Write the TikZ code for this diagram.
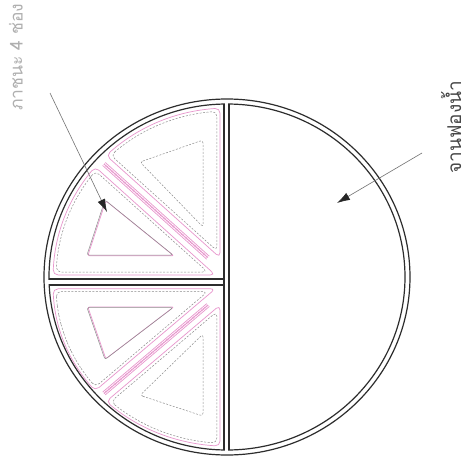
\documentclass[tikz,border=0pt]{standalone}
\usepackage{fontspec}
\newfontfamily\thaifont[Script=Thai]{Loma}
\usetikzlibrary{arrows.meta}

\definecolor{wallgray}{RGB}{45,45,45}
\definecolor{ridgepink}{RGB}{232,150,205}
\definecolor{ridgegray}{RGB}{140,140,140}
\definecolor{labeldark}{RGB}{70,70,70}
\definecolor{labellight}{RGB}{175,175,175}

\tikzset{
  wall/.style={draw=wallgray, line width=1.2pt},
  pinkline/.style={draw=ridgepink, line width=0.7pt},
  dashline/.style={draw=ridgegray, line width=0.5pt, dash pattern=on 2pt off 1.5pt},
  thinline/.style={draw=ridgegray, line width=0.5pt},
  pointer/.style={draw=black!55, line width=0.6pt,
    -{Latex[length=13pt,width=8pt,color=black!85]}},
  label/.style={font=\thaifont\fontsize{19}{19}\selectfont, rotate=90, inner sep=0pt},
}

% ridges and recesses of one quarter compartment
\newcommand{\quarterdecor}{%
  % diagonal ridge
  \draw[pinkline] (105.3,162.5) -- (209.3,256.2);
  \draw[pinkline] (104.0,164.0) -- (208.0,257.7);
  \draw[pinkline] (102.7,165.5) -- (206.7,259.2);
  \draw[pinkline, dash pattern=on 1pt off 1pt, line width=1.4pt] (104.0,164.0) -- (208.0,257.7);
  % upper recess
  \draw[pinkline, rounded corners=5pt]
    plot[domain=226:267.7, samples=12] ({227+174*cos(\x)},{277+169*sin(\x)})
    -- (220,257.7) -- cycle;
  \draw[dashline, rounded corners=5pt]
    plot[domain=227.2:266.6, samples=12] ({227+171*cos(\x)},{277+166*sin(\x)})
    -- (217,250.9) -- cycle;
  % lower recess
  \draw[pinkline, rounded corners=5pt]
    plot[domain=220.7:180.7, samples=12] ({227+174*cos(\x)},{277+169*sin(\x)})
    -- (215.4,275) -- cycle;
  \draw[dashline, rounded corners=5pt]
    plot[domain=219.7:181.7, samples=12] ({227+171*cos(\x)},{277+166*sin(\x)})
    -- (207.6,272) -- cycle;
  % triangular pockets
  \draw[dashline, rounded corners=3pt] (140,162) -- (203,140) -- (203,227) -- cycle;
  \draw[pinkline, rounded corners=2pt] (105.8,200.8) -- (87.8,255.8) -- (173.8,255.8) -- cycle;
  \draw[thinline, rounded corners=2pt] (105,200) -- (87,255) -- (173,255) -- cycle;
}

\begin{document}
\begin{tikzpicture}[x=1pt,y=-1pt]
  \useasboundingbox (0,0) rectangle (470,472);
  \fill[white] (0,0) rectangle (470,472);

  % rim of the tray
  \draw[wall] (227,277) ellipse [x radius=183pt, y radius=178pt];
  \draw[wall] (227,277) ellipse [x radius=178pt, y radius=173pt];
  % openings where the walls meet the rim
  \fill[white] (224.6,100.5) rectangle (228.4,107.5);
  \fill[white] (224.6,446.5) rectangle (228.4,453.5);
  \fill[white] (45.5,279.6) rectangle (52.5,284.4);
  % dividing walls
  \begin{scope}
    \clip (227,277) ellipse [x radius=178pt, y radius=173pt];
    \draw[wall] (224,90) -- (224,470);
    \draw[wall] (229,90) -- (229,470);
    \draw[wall] (30,279) -- (224,279);
    \draw[wall] (30,285) -- (224,285);
  \end{scope}

  % upper-left compartment
  \quarterdecor
  % lower-left compartment (reflected)
  \begin{scope}[yshift=-548.1pt, yscale=-0.943]
    \quarterdecor
  \end{scope}

  % labels
  \node[label, text=labeldark] (plate) at (451,127) {จานฟองน้ำ};
  \node[label, text=labellight, font=\thaifont\fontsize{17.5}{17.5}\selectfont] (pockets) at (16,57) {ภาชนะ 4 ช่อง};

  \coordinate (plateFrom) at (422,153);
  \coordinate (plateTo) at (337,203);
  \coordinate (pocketsFrom) at (50,93);
  \coordinate (pocketsTo) at (107,212);
  \draw[pointer] (plateFrom) -- (plateTo);
  \draw[pointer] (pocketsFrom) -- (pocketsTo);
\end{tikzpicture}
\end{document}
